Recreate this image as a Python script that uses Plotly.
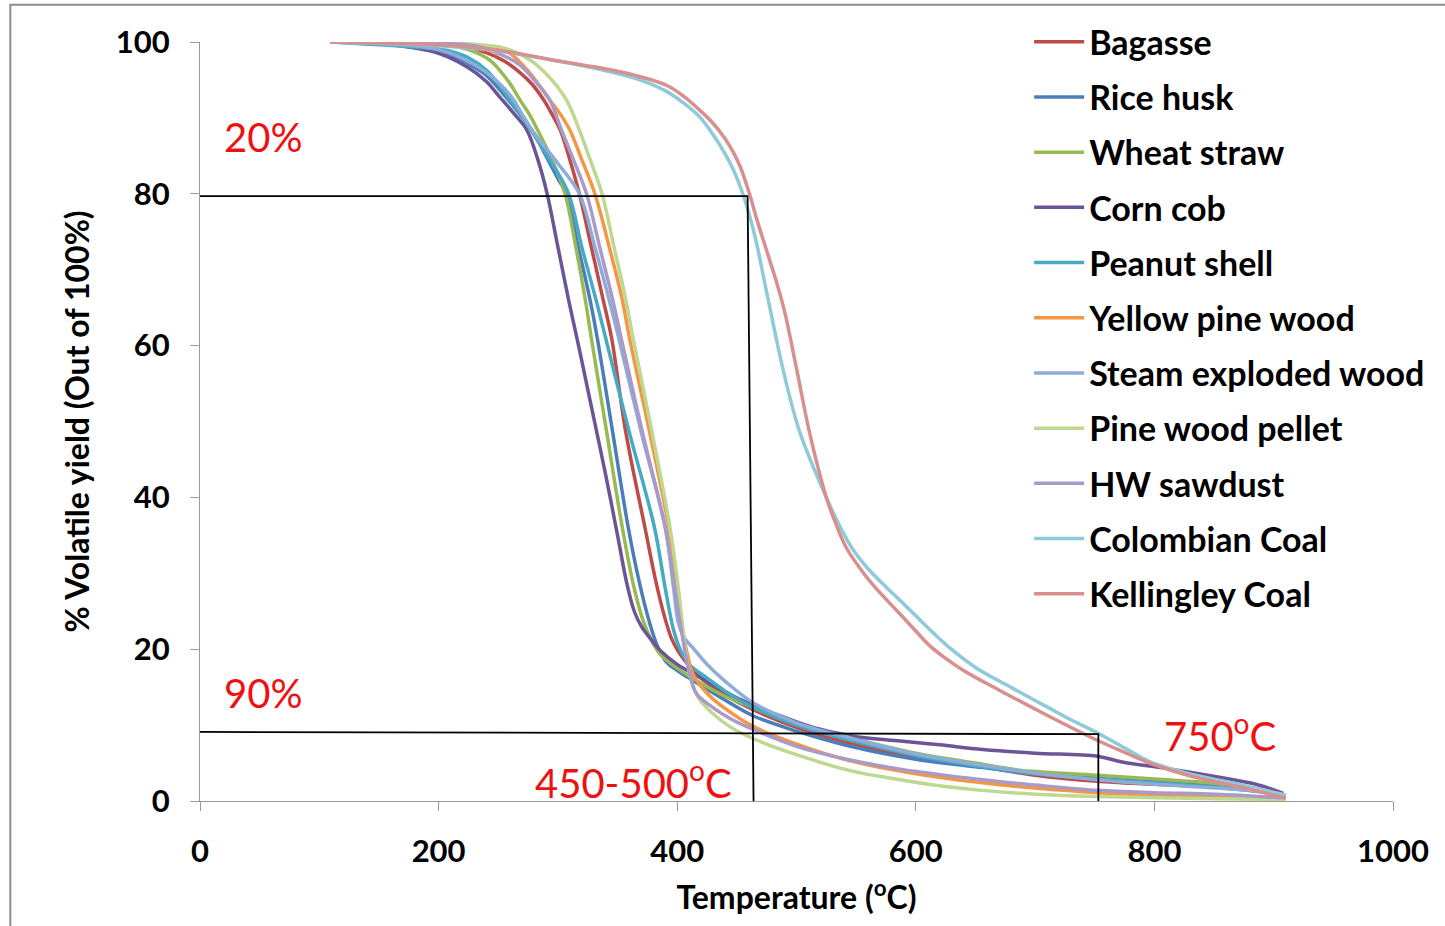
import plotly.graph_objects as go

# ---------------- data ----------------
series_names = ["Bagasse", "Rice husk", "Wheat straw", "Corn cob", "Peanut shell",
                "Yellow pine wood", "Steam exploded wood", "Pine wood pellet",
                "HW sawdust", "Colombian Coal", "Kellingley Coal"]

bagasse_T = [109, 200, 220, 240, 255, 268, 278, 288, 295, 302, 310, 318, 328, 338, 345, 357, 373, 382, 389, 395, 401, 409, 419, 440, 464, 500, 545, 600, 656, 700, 752, 800, 852, 890, 910]
bagasse_Y = [100, 99.8, 99.5, 98.6, 97.5, 96, 94.5, 92.4, 90.5, 88.4, 84.5, 80, 73, 66, 61, 48.5, 36, 29, 24.5, 21.5, 19.7, 18, 16.3, 14, 12, 9.7, 7.6, 5.8, 4.5, 3.4, 2.6, 2.2, 1.8, 1.2, 0.6]

rice_T = [109, 170, 195, 210, 224, 240, 255, 268, 279, 290, 300, 307, 317, 327, 333, 346, 359, 368, 377, 384, 391, 400, 413, 440, 464, 500, 545, 600, 656, 700, 752, 800, 852, 890, 910]
rice_Y = [100, 99.6, 98.9, 98.2, 97.2, 95.6, 93, 90.5, 88.2, 85, 82, 80, 73, 66, 61, 48.5, 36, 29, 23.4, 20.2, 18.3, 17.2, 15.9, 13.3, 11.2, 9.2, 7.2, 5.5, 4.4, 3.6, 3.0, 2.5, 2.0, 1.4, 0.7]

wheat_T = [109, 200, 225, 243, 251, 260, 268, 276, 283, 295, 306, 315, 323, 328, 341, 354, 364, 372, 379, 386, 400, 420, 440, 464, 500, 545, 600, 650, 685, 752, 800, 852, 885, 910]
wheat_Y = [100, 99.7, 99, 97.6, 96.3, 94.5, 92.4, 90.5, 88.4, 84.5, 80, 73, 66, 61, 48.5, 36, 28, 23.5, 21, 19.3, 17.5, 15.5, 13.8, 12.3, 10.2, 8.3, 6.3, 5, 4.1, 3.4, 2.9, 2.3, 1.5, 0.6]

corn_T = [109, 150, 180, 200, 224, 240, 251, 263, 274, 283, 291, 300, 309, 318, 330, 340, 350, 358, 364, 370, 377, 386, 400, 419, 440, 464, 490, 514, 545, 587, 620, 656, 700, 752, 774, 810, 852, 885, 908]
corn_Y = [100, 99.8, 99.2, 98.5, 96.7, 94.8, 92.8, 90.6, 88.4, 84.6, 80, 73, 66, 59.5, 50.5, 43, 35, 28.5, 25, 23, 21.5, 19.8, 18, 16.3, 14.4, 12.6, 11, 9.7, 8.6, 7.9, 7.4, 6.8, 6.3, 5.9, 5.1, 4.3, 3.2, 2.2, 1.0]

peanut_T = [109, 190, 210, 224, 240, 250, 260, 270, 279, 295, 309, 320, 332, 340, 360, 381, 390, 397, 403, 410, 425, 440, 464, 500, 545, 600, 656, 700, 752, 800, 852, 890, 910]
peanut_Y = [100, 99.2, 98.8, 98, 96.3, 94.5, 92.3, 90.2, 88, 84, 80, 73, 66, 61, 48.5, 36, 28, 22.5, 19.8, 18, 16.2, 14.5, 12.3, 10, 8, 6, 4.5, 3.6, 2.9, 2.4, 1.8, 1.2, 0.6]

pine_T = [109, 230, 250, 260, 276, 293, 302, 310, 320, 331, 343, 354, 360, 377, 393, 400, 405, 409, 413, 425, 440, 464, 500, 545, 600, 656, 700, 752, 800, 852, 910]
pine_Y = [100, 99.6, 99, 98.5, 96, 92.4, 90.5, 88.4, 84.5, 80, 73, 66, 61, 48.5, 36, 28, 22, 19, 16.8, 14.2, 12.2, 9.8, 7.5, 5.3, 3.6, 2.4, 1.7, 1.1, 0.8, 0.6, 0.3]

steam_T = [109, 190, 210, 224, 240, 260, 270, 280, 300, 318, 331, 343, 351, 370, 390, 397, 401, 406, 413, 425, 440, 464, 500, 545, 600, 656, 700, 752, 800, 852, 890, 910]
steam_Y = [100, 99.3, 98.5, 97.5, 96, 93, 90.5, 88, 84, 80, 73, 66, 61, 48.5, 36, 28, 23.5, 21.5, 20.2, 18, 15.8, 12.9, 10.3, 8.3, 6.2, 4.7, 3.7, 2.8, 2.2, 1.7, 1.2, 0.6]

pellet_T = [109, 230, 255, 277, 292, 307, 318, 327, 337, 347, 357, 363, 379, 394, 401, 406, 410, 414, 419, 430, 445, 464, 500, 545, 587, 620, 656, 700, 752, 852, 910]
pellet_Y = [100, 99.7, 99.2, 97.6, 95.5, 92.4, 88.4, 84.5, 80, 73, 66, 61, 48.5, 36, 28, 21, 17, 14.8, 13.3, 11.5, 9.7, 8.2, 6.1, 4.0, 2.8, 2.0, 1.4, 0.9, 0.6, 0.3, 0.2]

hw_T = [109, 230, 250, 268, 280, 293, 303, 313, 324, 335, 346, 353, 371, 390, 398, 404, 409, 416, 430, 445, 464, 500, 545, 587, 656, 700, 752, 800, 852, 910]
hw_Y = [100, 99.5, 98.5, 97, 95, 92.4, 88.4, 84.5, 80, 73, 66, 61, 48.5, 36, 28, 22, 17.8, 14.2, 12.3, 10.8, 9.4, 7.2, 5.4, 4.2, 2.8, 2.1, 1.4, 1.1, 0.9, 0.4]

colombian_T = [109, 200, 250, 300, 335, 365, 391, 405, 419, 430, 440, 447, 455, 465, 475, 490, 503, 525, 536, 547, 560, 575, 587, 600, 615, 629, 650, 670, 690, 710, 730, 752, 775, 796, 815, 840, 870, 910]
colombian_Y = [100, 99.5, 98.8, 97.5, 96.4, 95.2, 93.5, 92, 90.1, 87.8, 85.3, 83.2, 80, 74.5, 67, 56, 48.5, 40, 36.3, 33.2, 30.6, 28.2, 26.4, 24.4, 22.1, 20.1, 17.6, 15.8, 14.1, 12.4, 10.7, 9, 7, 5.2, 4.2, 3.2, 2.2, 0.8]

kellingley_T = [109, 200, 250, 300, 335, 365, 391, 405, 419, 430, 440, 447, 453, 460, 467, 475, 483, 490, 500, 511, 525, 533, 542, 553, 565, 587, 600, 612, 625, 640, 670, 710, 752, 775, 796, 830, 870, 910]
kellingley_Y = [100, 99.6, 98.9, 97.5, 96.6, 95.6, 94.3, 92.9, 91, 89.3, 87.3, 85.5, 83.5, 80.3, 76.5, 72.5, 68.5, 64.5, 57, 48.5, 40, 36.5, 33.3, 30.7, 28.3, 24.6, 22.4, 20.4, 18.8, 17.2, 14.6, 11.3, 8, 6.4, 5, 3.3, 1.9, 0.4]

series_T = [bagasse_T, rice_T, wheat_T, corn_T, peanut_T, pine_T, steam_T, pellet_T, hw_T, colombian_T, kellingley_T]
series_Y = [bagasse_Y, rice_Y, wheat_Y, corn_Y, peanut_Y, pine_Y, steam_Y, pellet_Y, hw_Y, colombian_Y, kellingley_Y]

series_colors = ["#be4b48", "#4a7ebb", "#98b954", "#6b5597", "#46aac5",
                 "#f39645", "#8eacd8", "#bfd88f", "#a99bc9", "#8ecad9", "#d7908e"]

x_ticks = [0, 200, 400, 600, 800, 1000]
y_ticks = [0, 20, 40, 60, 80, 100]

# guide lines (80% level at ~460 C, ~9% level at ~750 C)
guide1_T = [0, 459, 464]
guide1_Y = [79.7, 79.7, 0]
guide2_T = [0, 753, 753]
guide2_Y = [9.1, 8.8, 0]

FONT = "Lato"

fig = go.Figure()
for name, T, Y, c in zip(series_names, series_T, series_Y, series_colors):
    fig.add_trace(go.Scatter(x=T, y=Y, mode="lines", name=name, legendgroup=name,
                             line=dict(color=c, width=3.5, shape="spline", smoothing=1.0)))

for gT, gY in [(guide1_T, guide1_Y), (guide2_T, guide2_Y)]:
    fig.add_trace(go.Scatter(x=gT, y=gY, mode="lines", showlegend=False,
                             line=dict(color="black", width=1.8), hoverinfo="skip"))

annos = [
    dict(x=53, y=87.5, text="20%"),
    dict(x=53, y=14.2, text="90%"),
    dict(x=363, y=2.8, text="450-500<sup>o</sup>C"),
    dict(x=855, y=9.0, text="750<sup>o</sup>C"),
]
for a in annos:
    fig.add_annotation(x=a["x"], y=a["y"], text=a["text"], showarrow=False,
                       xref="x", yref="y", font=dict(family=FONT, size=40, color="#ee1111"))

# outer frame
fig.add_shape(type="rect", xref="paper", yref="paper", x0=-0.159, x1=1.1, y0=-0.3, y1=1.049,
              line=dict(color="#8c8c8c", width=2), layer="below")

tick_font = dict(family=FONT, size=31, color="black", weight="bold")
title_font = dict(family=FONT, size=32, color="black", weight="bold")
fig.update_xaxes(range=[0, 1000], tickvals=x_ticks, showgrid=False, zeroline=False,
                 showline=True, linecolor="#9a9a9a", linewidth=1.3, ticks="outside",
                 ticklen=9, tickcolor="#9a9a9a", tickfont=tick_font, ticklabelstandoff=14,
                 title=dict(text="Temperature (<sup>o</sup>C)", font=title_font, standoff=18))
fig.update_yaxes(range=[0, 100], tickvals=y_ticks, showgrid=False, zeroline=False,
                 showline=True, linecolor="#9a9a9a", linewidth=1.3, ticks="outside",
                 ticklen=9, tickcolor="#9a9a9a", tickfont=tick_font, ticklabelstandoff=14,
                 title=dict(text="% Volatile yield (Out of 100%)", font=title_font, standoff=16))

fig.update_layout(
    width=1445, height=926,
    margin=dict(l=200, r=52, t=42, b=125),
    paper_bgcolor="white", plot_bgcolor="rgba(0,0,0,0)",
    legend=dict(x=0.695, y=1.038, xanchor="left", yanchor="top", maxheight=2000,
                font=dict(family=FONT, size=34, color="black", weight="bold"),
                tracegroupgap=8, itemwidth=50, bgcolor="rgba(0,0,0,0)"),
)

fig.write_html("out.html")
